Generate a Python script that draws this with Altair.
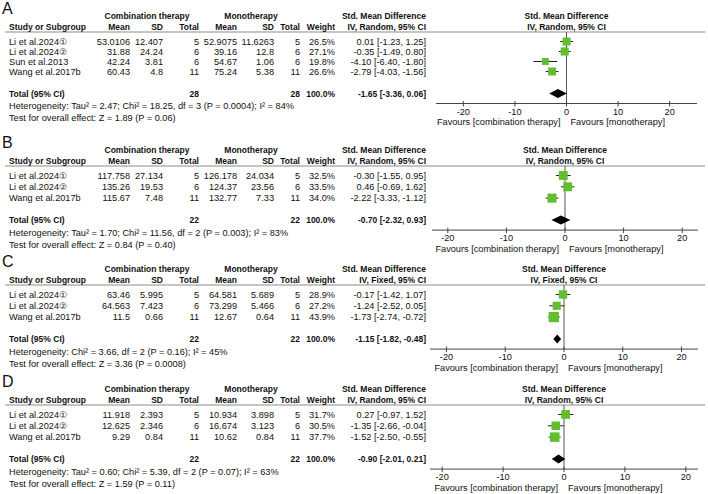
import altair as alt
import pandas as pd

# ---------------------------------------------------------------- data
STUDIES_A = ["Li et al.2024①", "Li et al.2024②", "Sun et al.2013", "Wang et al.2017b"]
STUDIES_BCD = ["Li et al.2024①", "Li et al.2024②", "Wang et al.2017b"]

# A
COMB_MEAN_A = [53.0106, 31.88, 42.24, 60.43]
COMB_SD_A = [12.407, 24.24, 3.81, 4.8]
COMB_N_A = [5, 6, 6, 11]
MONO_MEAN_A = [52.9075, 39.16, 54.67, 75.24]
MONO_SD_A = [11.6263, 12.8, 1.06, 5.38]
MONO_N_A = [5, 6, 6, 11]
WEIGHT_A = [26.5, 27.1, 19.8, 26.6]
SMD_A = [0.01, -0.35, -4.10, -2.79]
LOW_A = [-1.23, -1.49, -6.40, -4.03]
HIGH_A = [1.25, 0.80, -1.80, -1.56]
POOLED_A = [-1.65, -3.36, 0.06]
METHOD_A = "IV, Random, 95% CI"
HET_A = "Heterogeneity: Tau² = 2.47; Chi² = 18.25, df = 3 (P = 0.0004); I² = 84%"
TEST_A = "Test for overall effect: Z = 1.89 (P = 0.06)"

# B
COMB_MEAN_B = [117.758, 135.26, 115.67]
COMB_SD_B = [27.134, 19.53, 7.48]
COMB_N_B = [5, 6, 11]
MONO_MEAN_B = [126.178, 124.37, 132.77]
MONO_SD_B = [24.034, 23.56, 7.33]
MONO_N_B = [5, 6, 11]
WEIGHT_B = [32.5, 33.5, 34.0]
SMD_B = [-0.30, 0.46, -2.22]
LOW_B = [-1.55, -0.69, -3.33]
HIGH_B = [0.95, 1.62, -1.12]
POOLED_B = [-0.70, -2.32, 0.93]
METHOD_B = "IV, Random, 95% CI"
HET_B = "Heterogeneity: Tau² = 1.70; Chi² = 11.56, df = 2 (P = 0.003); I² = 83%"
TEST_B = "Test for overall effect: Z = 0.84 (P = 0.40)"

# C
COMB_MEAN_C = [63.46, 64.563, 11.5]
COMB_SD_C = [5.995, 7.423, 0.66]
COMB_N_C = [5, 6, 11]
MONO_MEAN_C = [64.581, 73.299, 12.67]
MONO_SD_C = [5.689, 5.466, 0.64]
MONO_N_C = [5, 6, 11]
WEIGHT_C = [28.9, 27.2, 43.9]
SMD_C = [-0.17, -1.24, -1.73]
LOW_C = [-1.42, -2.52, -2.74]
HIGH_C = [1.07, 0.05, -0.72]
POOLED_C = [-1.15, -1.82, -0.48]
METHOD_C = "IV, Fixed, 95% CI"
HET_C = "Heterogeneity: Chi² = 3.66, df = 2 (P = 0.16); I² = 45%"
TEST_C = "Test for overall effect: Z = 3.36 (P = 0.0008)"

# D
COMB_MEAN_D = [11.918, 12.625, 9.29]
COMB_SD_D = [2.393, 2.346, 0.84]
COMB_N_D = [5, 6, 11]
MONO_MEAN_D = [10.934, 16.674, 10.62]
MONO_SD_D = [3.898, 3.123, 0.84]
MONO_N_D = [5, 6, 11]
WEIGHT_D = [31.7, 30.5, 37.7]
SMD_D = [0.27, -1.35, -1.52]
LOW_D = [-0.97, -2.66, -2.50]
HIGH_D = [1.52, -0.04, -0.55]
POOLED_D = [-0.90, -2.01, 0.21]
METHOD_D = "IV, Random, 95% CI"
HET_D = "Heterogeneity: Tau² = 0.60; Chi² = 5.39, df = 2 (P = 0.07); I² = 63%"
TEST_D = "Test for overall effect: Z = 1.59 (P = 0.11)"

TICKS = [-20, -10, 0, 10, 20]
GROUPS = ["Combination therapy", "Monotherapy"]
FAVOURS = ["Favours [combination therapy]", "Favours [monotherapy]"]
EFFECT = "Std. Mean Difference"
TOTAL_LABEL = "Total (95% CI)"
TOTAL_WEIGHT = "100.0%"

PANELS = [
    dict(key="A", studies=STUDIES_A, cm=COMB_MEAN_A, cs=COMB_SD_A, cn=COMB_N_A,
         mm=MONO_MEAN_A, ms=MONO_SD_A, mn=MONO_N_A, w=WEIGHT_A, smd=SMD_A,
         lo=LOW_A, hi=HIGH_A, pooled=POOLED_A, method=METHOD_A, het=HET_A, test=TEST_A),
    dict(key="B", studies=STUDIES_BCD, cm=COMB_MEAN_B, cs=COMB_SD_B, cn=COMB_N_B,
         mm=MONO_MEAN_B, ms=MONO_SD_B, mn=MONO_N_B, w=WEIGHT_B, smd=SMD_B,
         lo=LOW_B, hi=HIGH_B, pooled=POOLED_B, method=METHOD_B, het=HET_B, test=TEST_B),
    dict(key="C", studies=STUDIES_BCD, cm=COMB_MEAN_C, cs=COMB_SD_C, cn=COMB_N_C,
         mm=MONO_MEAN_C, ms=MONO_SD_C, mn=MONO_N_C, w=WEIGHT_C, smd=SMD_C,
         lo=LOW_C, hi=HIGH_C, pooled=POOLED_C, method=METHOD_C, het=HET_C, test=TEST_C),
    dict(key="D", studies=STUDIES_BCD, cm=COMB_MEAN_D, cs=COMB_SD_D, cn=COMB_N_D,
         mm=MONO_MEAN_D, ms=MONO_SD_D, mn=MONO_N_D, w=WEIGHT_D, smd=SMD_D,
         lo=LOW_D, hi=HIGH_D, pooled=POOLED_D, method=METHOD_D, het=HET_D, test=TEST_D),
]

# ---------------------------------------------------------------- layout
W, H = 708, 494
FONT = "Liberation Sans"
FS = 9.2        # regular text
FS_BOLD = 8.5   # headers and totals
INK = "#111111"
GREEN = "#62bd2f"

# anchor of each table column (left edge for names, right edge for numbers)
COLX = {"study": 9, "cm": 130, "cs": 163, "cn": 199, "mm": 237, "ms": 274,
        "mn": 300, "w": 335, "ci": 426, "comb_head": 147, "mono_head": 251}

# header rule, row pitch and forest-plot pixel span for each panel
LAYOUT = {
    "A": {"line": 32, "step": 10.0, "px": [436, 697], "dom": [-25.3, 25.3]},
    "B": {"line": 166, "step": 11.3, "px": [432, 698], "dom": [-22.7, 22.7]},
    "C": {"line": 285, "step": 11.3, "px": [430, 698], "dom": [-22.8, 22.8]},
    "D": {"line": 405, "step": 11.3, "px": [430, 698], "dom": [-22.0, 22.0]},
}

Y_SCALE = alt.Scale(domain=[0, H], range=[0, H], nice=False, zero=False)
PAGE_SCALE = alt.Scale(domain=[0, W], range=[0, W], nice=False, zero=False)


def ypos(field="y"):
    return alt.Y(f"{field}:Q", scale=Y_SCALE, axis=None)


def page_x(field="x"):
    return alt.X(f"{field}:Q", scale=PAGE_SCALE, axis=None)


def smd_x(lay, field="x"):
    return alt.X(f"{field}:Q",
                 scale=alt.Scale(domain=lay["dom"], range=lay["px"], nice=False, zero=False),
                 axis=None)


def ci_label(e, lo, hi):
    return f"{e:.2f} [{lo:.2f}, {hi:.2f}]"


cells = []


def cell(x, y, text, align="left", bold=False, size=None):
    if size is None:
        size = FS_BOLD if bold else FS
    cells.append(dict(x=x, y=y, text=text, align=align, bold=bold, size=size))


layers = []

for p in PANELS:
    lay = LAYOUT[p["key"]]
    L = lay["line"]
    n = len(p["studies"])
    rows = [L + 9.5 + lay["step"] * i for i in range(n)]
    y_tot = rows[-1] + 22
    y_het = y_tot + 12.5
    y_test = y_het + 12
    y_axis = y_tot + 10
    y_tick = y_axis + 8
    y_fav = y_axis + 18.5
    y_h1, y_h2 = L - 16, L - 5

    # table text
    cell(2, L - 23, p["key"], size=16)
    cell(COLX["comb_head"], y_h1, GROUPS[0], "center", True)
    cell(COLX["mono_head"], y_h1, GROUPS[1], "center", True)
    cell(COLX["ci"], y_h1, EFFECT, "right", True)
    cell(COLX["study"], y_h2, "Study or Subgroup", "left", True)
    for col, lab in [("cm", "Mean"), ("cs", "SD"), ("cn", "Total"), ("mm", "Mean"),
                     ("ms", "SD"), ("mn", "Total"), ("w", "Weight")]:
        cell(COLX[col], y_h2, lab, "right", True)
    cell(COLX["ci"], y_h2, p["method"], "right", True)

    for i, y in enumerate(rows):
        cell(COLX["study"], y, p["studies"][i])
        for col in ["cm", "cs", "cn", "mm", "ms", "mn"]:
            cell(COLX[col], y, str(p[col][i]), "right")
        cell(COLX["w"], y, f"{p['w'][i]:.1f}%", "right")
        cell(COLX["ci"], y, ci_label(p["smd"][i], p["lo"][i], p["hi"][i]), "right")

    cell(COLX["study"], y_tot, TOTAL_LABEL, "left", True)
    cell(COLX["cn"], y_tot, str(sum(p["cn"])), "right", True)
    cell(COLX["mn"], y_tot, str(sum(p["mn"])), "right", True)
    cell(COLX["w"], y_tot, TOTAL_WEIGHT, "right", True)
    cell(COLX["ci"], y_tot, ci_label(*p["pooled"]), "right", True)
    cell(COLX["study"], y_het, p["het"])
    cell(COLX["study"], y_test, p["test"])

    # header rule across the full width
    layers.append(
        alt.Chart(pd.DataFrame({"x": [5], "x2": [705], "y": [L]}))
        .mark_rule(color="#8c8c8c", strokeWidth=1.2)
        .encode(x=page_x(), x2="x2:Q", y=ypos())
    )

    # forest plot: headers
    layers.append(
        alt.Chart(pd.DataFrame({"x": [0, 0], "y": [y_h1, y_h2], "t": [EFFECT, p["method"]]}))
        .mark_text(font=FONT, fontSize=FS_BOLD, fontWeight="bold", color=INK,
                   align="center", baseline="middle")
        .encode(x=smd_x(lay), y=ypos(), text="t:N")
    )
    # line of no effect
    layers.append(
        alt.Chart(pd.DataFrame({"x": [0], "y": [L], "y2": [y_axis]}))
        .mark_rule(color="#555555", strokeWidth=1)
        .encode(x=smd_x(lay), y=ypos(), y2="y2:Q")
    )
    # axis line, ticks, tick labels
    layers.append(
        alt.Chart(pd.DataFrame({"x": [lay["dom"][0]], "x2": [lay["dom"][1]], "y": [y_axis]}))
        .mark_rule(color="#444444", strokeWidth=1)
        .encode(x=smd_x(lay), x2="x2:Q", y=ypos())
    )
    tick_df = pd.DataFrame({"x": TICKS, "y": [y_axis - 2.5] * len(TICKS),
                            "y2": [y_axis + 3] * len(TICKS), "yt": [y_tick] * len(TICKS),
                            "t": [str(t) for t in TICKS]})
    layers.append(
        alt.Chart(tick_df).mark_rule(color="#444444", strokeWidth=1)
        .encode(x=smd_x(lay), y=ypos(), y2="y2:Q")
    )
    layers.append(
        alt.Chart(tick_df)
        .mark_text(font=FONT, fontSize=FS, color=INK, align="center", baseline="middle")
        .encode(x=smd_x(lay), y=ypos("yt"), text="t:N")
    )
    layers.append(
        alt.Chart(pd.DataFrame({"x": [0], "y": [y_fav], "t": [FAVOURS[0]]}))
        .mark_text(font=FONT, fontSize=FS, color=INK, align="right", baseline="middle", dx=-6)
        .encode(x=smd_x(lay), y=ypos(), text="t:N")
    )
    layers.append(
        alt.Chart(pd.DataFrame({"x": [0], "y": [y_fav], "t": [FAVOURS[1]]}))
        .mark_text(font=FONT, fontSize=FS, color=INK, align="left", baseline="middle", dx=4)
        .encode(x=smd_x(lay), y=ypos(), text="t:N")
    )

    # study estimates: CI whiskers and weight-scaled squares
    study_df = pd.DataFrame({"smd": p["smd"], "lo": p["lo"], "hi": p["hi"], "y": rows,
                             "area": [w * 2.4 for w in p["w"]]})
    layers.append(
        alt.Chart(study_df).mark_rule(color="#222222", strokeWidth=1)
        .encode(x=smd_x(lay, "lo"), x2="hi:Q", y=ypos())
    )
    layers.append(
        alt.Chart(study_df).mark_square(color=GREEN, opacity=1, strokeWidth=0)
        .encode(x=smd_x(lay, "smd"), y=ypos(),
                size=alt.Size("area:Q", scale=None, legend=None))
    )

    # pooled estimate diamond
    est, plo, phi = p["pooled"]
    dia = pd.DataFrame({"x": [plo, est, phi],
                        "y": [y_tot, y_tot - 4.5, y_tot],
                        "y2": [y_tot, y_tot + 4.5, y_tot]})
    layers.append(
        alt.Chart(dia).mark_area(color="black", orient="vertical", opacity=1)
        .encode(x=smd_x(lay), y=ypos(), y2="y2:Q")
    )

# table text layers, one per alignment / weight / size
cell_df = pd.DataFrame(cells)
for (align, bold, size), grp in cell_df.groupby(["align", "bold", "size"]):
    layers.append(
        alt.Chart(grp[["x", "y", "text"]].reset_index(drop=True))
        .mark_text(font=FONT, fontSize=float(size), fontWeight="bold" if bold else "normal",
                   color=INK, align=align, baseline="middle")
        .encode(x=page_x(), y=ypos(), text="text:N")
    )

chart = (
    alt.layer(*layers)
    .resolve_scale(x="independent")
    .properties(width=W, height=H, padding=0,
                autosize=alt.AutoSizeParams(type="none"), background="white")
    .configure_view(strokeWidth=0)
)

chart.save("out.html", embed_options={"renderer": "svg", "actions": False})
